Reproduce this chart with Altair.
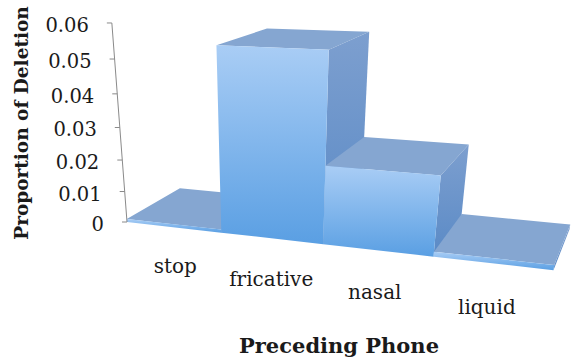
import altair as alt
import pandas as pd

# ---- data -------------------------------------------------------------
phones = ["stop", "fricative", "nasal", "liquid"]
deletion = [0.001, 0.055, 0.0235, 0.0015]
tick_values = [0, 0.01, 0.02, 0.03, 0.04, 0.05, 0.06]
tick_labels = ["0", "0.01", "0.02", "0.03", "0.04", "0.05", "0.06"]

# ---- 3-D view ---------------------------------------------------------
# Three-point perspective: the floor's front-left corner, the vanishing
# point of each box direction and how quickly each direction recedes.
ORIGIN = (127.0, 222.0)
VP_X, W_X = (-2328.0, -55.4), -0.037     # per category slot
VP_Y, W_Y = (270.0, 2100.0), -1.597      # per unit of proportion
VP_Z, W_Z = (705.0, -116.0), 0.101       # per unit of depth
LABEL_DROP = -0.0135                     # category labels sit below the floor


def project(x, y, z):
    d = 1 + W_X * x + W_Y * y + W_Z * z
    px = (ORIGIN[0] + W_X * x * VP_X[0] + W_Y * y * VP_Y[0] + W_Z * z * VP_Z[0]) / d
    py = (ORIGIN[1] + W_X * x * VP_X[1] + W_Y * y * VP_Y[1] + W_Z * z * VP_Z[1]) / d
    return px, py


def polygon_rows(face, corners):
    """Convex polygon -> rows of an area mark (x, upper y, lower y)."""
    pts = [project(*c) for c in corners]
    edges = list(zip(pts, pts[1:] + pts[:1]))
    rows = []
    for sx in sorted({p[0] for p in pts}):
        ys = []
        for (x1, y1), (x2, y2) in edges:
            if min(x1, x2) - 1e-9 <= sx <= max(x1, x2) + 1e-9:
                if abs(x2 - x1) < 1e-9:
                    ys += [y1, y2]
                else:
                    ys.append(y1 + (y2 - y1) * (sx - x1) / (x2 - x1))
        rows.append({"face": face, "px": sx, "top": min(ys), "bottom": max(ys)})
    return rows


front_rows, side_rows, top_rows = [], [], []
for i, (phone, v) in enumerate(zip(phones, deletion)):
    a, b = i, i + 1
    front_rows += polygon_rows(phone, [(a, 0, 0), (b, 0, 0), (b, v, 0), (a, v, 0)])
    side_rows += polygon_rows(phone, [(b, 0, 0), (b, 0, 1), (b, v, 1), (b, v, 0)])
    top_rows += polygon_rows(phone, [(a, v, 0), (b, v, 0), (b, v, 1), (a, v, 1)])

front_df = pd.DataFrame(front_rows)
side_df = pd.DataFrame(side_rows)
top_df = pd.DataFrame(top_rows)

base_x, base_y = project(0, 0, 0)
peak_x, peak_y = project(0, max(tick_values), 0)
axis_df = pd.DataFrame([{"x": base_x, "y": base_y, "x2": peak_x, "y2": peak_y}])

tick_rows = []
for t, lab in zip(tick_values, tick_labels):
    tx, ty = project(0, t, 0)
    tick_rows.append({"x": tx, "y": ty, "x2": tx - 5, "label": lab})
tick_df = pd.DataFrame(tick_rows)

cat_rows = []
for i, phone in enumerate(phones):
    cx, cy = project(i + 0.5, LABEL_DROP, 0)
    cat_rows.append({"x": cx, "y": cy, "phone": phone})
cat_df = pd.DataFrame(cat_rows)

# ---- marks ------------------------------------------------------------
W, H = 572, 363
xs = alt.Scale(domain=[0, W], nice=False, zero=False)
ys = alt.Scale(domain=[H, 0], nice=False, zero=False)
FONT = "DejaVu Serif"


def grad(top, bottom):
    return alt.Gradient(
        gradient="linear",
        stops=[alt.GradientStop(color=top, offset=0),
               alt.GradientStop(color=bottom, offset=1)],
        x1=0, x2=0, y1=0, y2=1,
    )


def faces(df, fill):
    return alt.Chart(df).mark_area(fill=fill, interpolate="linear", opacity=1).encode(
        x=alt.X("px:Q", scale=xs, axis=None),
        y=alt.Y("top:Q", scale=ys, axis=None, stack=None),
        y2="bottom:Q",
        detail="face:N",
    )


sides = faces(side_df, grad("#7d9fcf", "#5a8ac6"))
tops = faces(top_df, "#85a6d1")
fronts = faces(front_df, grad("#a9cdf5", "#5a9fe3"))

axis_line = alt.Chart(axis_df).mark_rule(color="#8a8a8a", strokeWidth=1).encode(
    x=alt.X("x:Q", scale=xs, axis=None), y=alt.Y("y:Q", scale=ys, axis=None),
    x2="x2:Q", y2="y2:Q",
)
tick_marks = alt.Chart(tick_df).mark_rule(color="#8a8a8a", strokeWidth=1).encode(
    x=alt.X("x:Q", scale=xs, axis=None), y=alt.Y("y:Q", scale=ys, axis=None),
    x2="x2:Q",
)
tick_text = alt.Chart(tick_df).mark_text(
    align="right", baseline="middle", dx=-23, dy=3, font=FONT, fontSize=19.5, color="#1a1a1a"
).encode(
    x=alt.X("x:Q", scale=xs, axis=None), y=alt.Y("y:Q", scale=ys, axis=None), text="label:N"
)
cat_text = alt.Chart(cat_df).mark_text(
    align="center", baseline="middle", font=FONT, fontSize=20, color="#1a1a1a"
).encode(
    x=alt.X("x:Q", scale=xs, axis=None), y=alt.Y("y:Q", scale=ys, axis=None), text="phone:N"
)

y_title = alt.Chart(pd.DataFrame([{"text": "Proportion of Deletion"}])).mark_text(
    align="center", baseline="middle", angle=270, font=FONT, fontSize=18.5,
    fontWeight="bold", color="#1a1a1a"
).encode(x=alt.value(22), y=alt.value(123), text="text:N")

x_title = alt.Chart(pd.DataFrame([{"text": "Preceding Phone"}])).mark_text(
    align="center", baseline="middle", font=FONT, fontSize=21,
    fontWeight="bold", color="#1a1a1a"
).encode(x=alt.value(339), y=alt.value(347), text="text:N")

chart = alt.layer(
    sides, tops, fronts, axis_line, tick_marks, tick_text, cat_text, y_title, x_title
).properties(
    width=W, height=H, padding=0, autosize=alt.AutoSizeParams(type="none"),
    background="white",
).configure_view(stroke=None)

chart.save("out.html", embed_options={"renderer": "svg", "actions": False})
